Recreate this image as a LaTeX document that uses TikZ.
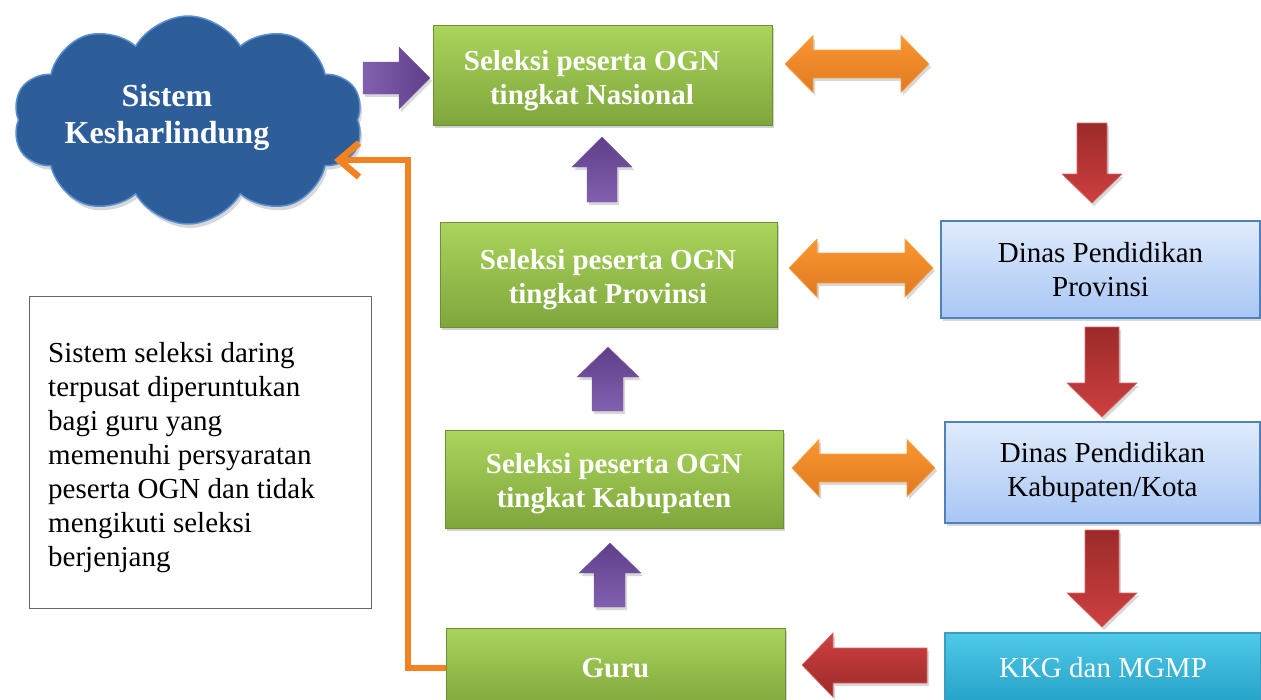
\documentclass[tikz,border=0pt]{standalone}
\usepackage{fontspec}
\setmainfont{Liberation Serif}
\usetikzlibrary{shapes.symbols,shadows,arrows.meta}
\definecolor{gtop}{HTML}{AAD45C}
\definecolor{gbot}{HTML}{7FA63C}
\definecolor{gline}{HTML}{6E8F33}
\definecolor{btop}{HTML}{E0EBFC}
\definecolor{bbot}{HTML}{A8C6F4}
\definecolor{bline}{HTML}{4F81BD}
\definecolor{ctop}{HTML}{50C9E8}
\definecolor{cbot}{HTML}{25A2C8}
\definecolor{cline}{HTML}{3A9EC0}
\definecolor{cloudfill}{HTML}{2E5E9A}
\definecolor{cloudline}{HTML}{5B8FD0}
\definecolor{purL}{HTML}{8260B0}
\definecolor{purD}{HTML}{5E3F89}
\definecolor{orL}{HTML}{F9962F}
\definecolor{orD}{HTML}{E07A22}
\definecolor{redL}{HTML}{CE4040}
\definecolor{redD}{HTML}{9C2A2A}
\definecolor{oline}{HTML}{F58220}
\tikzset{
  txt/.style={font=\fontsize{29}{34}\selectfont},
  gtxt/.style={font=\fontsize{29}{34}\selectfont\bfseries, text=white, align=center, inner sep=0pt},
  gbox/.style={draw=gline, line width=1pt, top color=gtop, bottom color=gbot,
    inner sep=0pt, minimum width=339pt, minimum height=100pt,
    drop shadow={opacity=0.35, shadow xshift=2pt, shadow yshift=-3pt}},
  bbox/.style={txt, draw=bline, line width=1.5pt, top color=btop, bottom color=bbot,
    text=black, align=center, inner sep=0pt, minimum width=317pt, minimum height=99pt,
    drop shadow={opacity=0.3, shadow xshift=2pt, shadow yshift=-3pt}},
  kbox/.style={bbox, draw=cline, top color=ctop, bottom color=cbot, text=white},
  shad/.style={drop shadow={opacity=0.3, shadow xshift=2pt, shadow yshift=-3pt}},
  uparr/.style={top color=purD, bottom color=purL, draw=purD!80, line width=0.4pt, shad},
  rightarr/.style={left color=purL, right color=purD, draw=purD!80, line width=0.4pt, shad},
  downarr/.style={top color=redD, bottom color=redL, draw=redL!80!white, line width=0.6pt, shad},
  leftarr/.style={top color=redL, bottom color=redD, draw=redL!80!white, line width=0.6pt, shad},
  dblarr/.style={top color=orL, bottom color=orD, draw=orL!90!white, line width=0.6pt, shad},
  conn/.style={draw=oline, line width=6.5pt, line join=miter,
    -{Straight Barb[length=20pt,width=34pt]}},
}
\begin{document}
\begin{tikzpicture}[x=1pt,y=-1pt]
\useasboundingbox (0,0) rectangle (1261,699);
\fill[white] (0,0) rectangle (1261,699);

% cloud
\node[cloud, cloud puffs=10, cloud puff arc=120, aspect=1.7, fill=cloudfill,
  draw=cloudline, line width=1.5pt, minimum width=350pt, minimum height=208pt,
  drop shadow={opacity=0.3, shadow xshift=2pt, shadow yshift=-4pt}] (cloud) at (188,120) {};
\node[text=white, font=\fontsize{32}{37}\selectfont\bfseries, align=center, inner sep=0pt] (cloudtxt) at (167,117) {Sistem\\Kesharlindung};

% green boxes
\node[gbox] (nas) at (602.5,75) {};
\node[gtxt] (nasT) at (592,81) {Seleksi peserta OGN\\tingkat Nasional};
\node[gbox, minimum width=337pt, minimum height=105pt] (prov) at (608.5,274.5) {};
\node[gtxt] (provT) at (608,279.5) {Seleksi peserta OGN\\tingkat Provinsi};
\node[gbox, minimum width=338pt, minimum height=98pt] (kab) at (614,479) {};
\node[gtxt] (kabT) at (614,484) {Seleksi peserta OGN\\tingkat Kabupaten};
\node[gbox, minimum height=80pt] (guru) at (615.5,668) {};
\node[gtxt] (guruT) at (615.5,668) {Guru};

% blue boxes
\node[bbox, minimum width=319pt, minimum height=97pt] (dprov) at (1100.5,269.5) {Dinas Pendidikan\\Provinsi};
\node[bbox, minimum width=315pt, minimum height=101pt] (dkab) at (1102.5,472.5) {Dinas Pendidikan\\Kabupaten/Kota};
\node[kbox, minimum width=316pt, minimum height=70pt] (kkg) at (1103,668) {KKG dan MGMP};

% note box
\node[draw=black!60, line width=1pt, fill=white, minimum width=342pt, minimum height=312pt] (note) at (200,452) {};
\node[txt, align=left, inner sep=0pt, anchor=west] (noteT) at (48,458)
  {Sistem seleksi daring\\terpusat diperuntukan\\bagi guru yang\\memenuhi persyaratan\\peserta OGN dan tidak\\mengikuti seleksi\\berjenjang};

% purple right arrow cloud -> nasional
\path[rightarr] (363,62) -- (399,62) -- (399,47) -- (430,78) -- (399,109) -- (399,94) -- (363,94) -- cycle;

% purple up arrows
\path[uparr] (587,202) -- (587,167) -- (572,167) -- (602,137) -- (632,167) -- (617,167) -- (617,202) -- cycle;
\path[uparr] (592,411) -- (592,377) -- (577,377) -- (608,347) -- (639,377) -- (623,377) -- (623,411) -- cycle;
\path[uparr] (594,607) -- (594,573) -- (579,573) -- (610,543) -- (641,573) -- (625,573) -- (625,607) -- cycle;

% red down arrows
\path[downarr] (1077,123) -- (1107,123) -- (1107,174) -- (1122,174) -- (1092,203) -- (1062,174) -- (1077,174) -- cycle;
\path[downarr] (1085,327) -- (1119,327) -- (1119,383) -- (1137,383) -- (1102,417) -- (1067,383) -- (1085,383) -- cycle;
\path[downarr] (1085,530) -- (1119,530) -- (1119,593) -- (1137,593) -- (1102,627) -- (1067,593) -- (1085,593) -- cycle;

% red left arrow
\path[leftarr] (927,648) -- (833,648) -- (833,633) -- (802,665) -- (833,697) -- (833,683) -- (927,683) -- cycle;

% orange double arrows
\path[dblarr] (785,64) -- (813,35.5) -- (813,50) -- (901,50) -- (901,35.5) -- (929,64) -- (901,92.5) -- (901,78) -- (813,78) -- (813,92.5) -- cycle;
\path[dblarr] (789,268) -- (817,239) -- (817,253) -- (905,253) -- (905,239) -- (933,268) -- (905,297) -- (905,283) -- (817,283) -- (817,297) -- cycle;
\path[dblarr] (792,468) -- (819,439.5) -- (819,454) -- (907,454) -- (907,439.5) -- (935,468) -- (907,496.5) -- (907,482) -- (819,482) -- (819,496.5) -- cycle;

% orange connector guru -> cloud
\coordinate (bend) at (408,160);
\coordinate (ctip) at (334,160);
\draw[conn] (guru.west) -| (bend) -- (ctip);
\end{tikzpicture}
\end{document}
